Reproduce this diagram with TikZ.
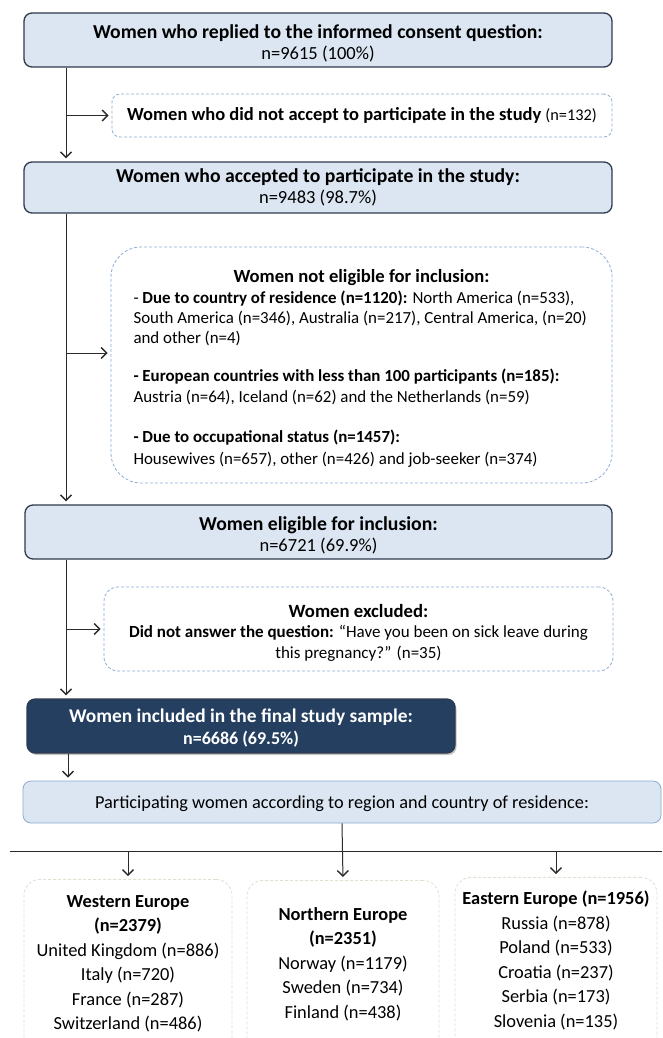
\documentclass[tikz,border=0pt]{standalone}
\usepackage{fontspec}
\setmainfont{Carlito}
\usetikzlibrary{arrows.meta,shadows}
\definecolor{boxfill}{HTML}{DCE6F2}
\definecolor{boxline}{HTML}{2E3B4E}
\definecolor{dashline}{HTML}{8EADD6}
\definecolor{navy}{HTML}{243F60}
\definecolor{beigeline}{HTML}{E2DFD2}
\definecolor{lightline}{HTML}{8EA9CF}
\definecolor{conn}{HTML}{2B2B2B}
\newcommand{\pushdown}{\rule{0pt}{21pt}}
\tikzset{
  mainbox/.style={draw=boxline, fill=boxfill, line width=1.3pt, rounded corners=8pt, inner sep=0pt, align=center,
    font=\fontsize{19.7}{21.5}\selectfont},
  dashbox/.style={draw=dashline, dash pattern=on 3pt off 2pt, line width=0.8pt, inner sep=0pt, align=center},
  darkbox/.style={draw=boxline, fill=navy, line width=1.2pt, rounded corners=8pt, inner sep=0pt, align=center, text=white,
    font=\bfseries\fontsize{19.4}{22}\selectfont,
    drop shadow={shadow xshift=1.5pt, shadow yshift=-2pt, opacity=0.45}},
  regbox/.style={draw=lightline, fill=boxfill, line width=0.8pt, rounded corners=8pt, inner sep=0pt, align=center},
  regionbox/.style={draw=beigeline, dash pattern=on 3pt off 2pt, line width=0.8pt, rounded corners=16pt, inner sep=0pt},
  regiontext/.style={inner sep=0pt, align=center, font=\fontsize{18.4}{24.5}\selectfont, anchor=north},
  conn/.style={draw=conn, line width=1pt},
  arr/.style={conn, -{Straight Barb[length=5.5pt,width=11pt,line width=1.4pt]}, shorten >=3pt},
}
\begin{document}
\begin{tikzpicture}[x=1pt,y=-1pt]
\clip (0,0) rectangle (662,1038);
\fill[white] (0,0) rectangle (662,1038);

% main column boxes
\node[mainbox, minimum width=588pt, minimum height=54pt] (b1) at (318,40)
  {\pushdown\textbf{Women who replied to the informed consent question:}\\
   {\fontsize{18.5}{21}\selectfont n=9615 (100\%)}};
\node[dashbox, rounded corners=8pt, minimum width=500pt, minimum height=43pt] (nx) at (362,115.5)
  {\fontsize{18.5}{21}\selectfont\textbf{Women who did not accept to participate in the study} {\fontsize{16.3}{19}\selectfont(n=132)}};
\node[mainbox, minimum width=588pt, minimum height=51pt] (b2) at (318,187.5)
  {\textbf{Women who accepted to participate in the study:}\\
   {\fontsize{18.5}{21}\selectfont n=9483 (98.7\%)}};
\node[dashbox, rounded corners=30pt, minimum width=501pt, minimum height=236pt] (ne) at (361.5,365)
  {\begin{minipage}{456pt}\fontsize{16.9}{20.3}\selectfont
   \vspace*{7pt}
   \centering{\fontsize{18.6}{21}\selectfont\textbf{Women not eligible for inclusion:}}\par\vspace{0.5pt}
   \raggedright
   - \textbf{Due to country of residence (n=1120):} North America (n=533),\\
   South America (n=346), Australia (n=217), Central America, (n=20)\\
   and other (n=4)\par\vspace{17.5pt}
   \textbf{- European countries with less than 100 participants (n=185):}\\
   Austria (n=64), Iceland (n=62) and the Netherlands (n=59)\par\vspace{20.5pt}
   \textbf{- Due to occupational status (n=1457):}\\[1.5pt]
   Housewives (n=657), other (n=426) and job-seeker (n=374)
   \end{minipage}};
\node[mainbox, minimum width=587pt, minimum height=54pt] (b3) at (318.5,532)
  {\pushdown\textbf{Women eligible for inclusion:}\\
   {\fontsize{18.5}{21}\selectfont n=6721 (69.9\%)}};
\node[dashbox, rounded corners=14pt, minimum width=509pt, minimum height=84pt] (ex) at (358.5,629)
  {\begin{minipage}{490pt}\centering\fontsize{17}{20.5}\selectfont
   \vspace*{7pt}
   {\fontsize{18.7}{20}\selectfont\textbf{Women excluded:}}\\
   \textbf{Did not answer the question:} ``Have you been on sick leave during\\
   this pregnancy?'' (n=35)
   \end{minipage}};
\node[darkbox, minimum width=428pt, minimum height=54pt] (b4) at (241,726)
  {\rule{0pt}{18pt}Women included in the final study sample:\\
   {\fontsize{18}{21}\selectfont n=6686 (69.5\%)}};
\node[regbox, minimum width=638pt, minimum height=42pt] (b5) at (342,802)
  {\fontsize{18.3}{21}\selectfont\rule{0pt}{16pt}Participating women according to region and country of residence:};

% region boxes
\node[regionbox, minimum width=208pt, minimum height=190pt, anchor=north] (wbox) at (128,879) {};
\node[regionbox, minimum width=192pt, minimum height=190pt, anchor=north] (nbox) at (343,880) {};
\node[regionbox, minimum width=202pt, minimum height=190pt, anchor=north] (ebox) at (556,877) {};

\node[regiontext] (wtext) at (128,895)
  {\textbf{Western Europe}\\\textbf{(n=2379)}\\United Kingdom (n=886)\\Italy (n=720)\\France (n=287)\\Switzerland (n=486)};
\node[regiontext] (ntext) at (343,907)
  {\textbf{Northern Europe}\\\textbf{(n=2351)}\\Norway (n=1179)\\Sweden (n=734)\\Finland (n=438)};
\node[regiontext] (etext) at (556,891)
  {\textbf{Eastern Europe (n=1956)}\\Russia (n=878)\\Poland (n=533)\\Croatia (n=237)\\Serbia (n=173)\\Slovenia (n=135)};

% connectors
\coordinate (x66) at (66,0);
\coordinate (x68) at (68,0);
\coordinate (nebr) at (66,353);
\coordinate (hl) at (10,851);
\coordinate (hr) at (662,851);

\draw[arr] (b1.south -| x66) -- (b2.north -| x66);
\draw[arr] (nx.west -| x66) -- (nx.west);
\draw[arr] (b2.south -| x66) -- (b3.north -| x66);
\draw[arr] (nebr) -- (nebr -| ne.west);
\draw[arr] (b3.south -| x66) -- (b4.north -| x66);
\draw[arr] (ex.west -| x66) -- (ex.west);
\draw[arr] (b4.south -| x68) -- (b5.north -| x68);
\draw[conn] (hl) -- (hr);
\draw[arr] (b5.south) -- (nbox.north);
\draw[arr] (hl -| wbox.north) -- (wbox.north);
\draw[arr] (hl -| ebox.north) -- (ebox.north);
\end{tikzpicture}
\end{document}
